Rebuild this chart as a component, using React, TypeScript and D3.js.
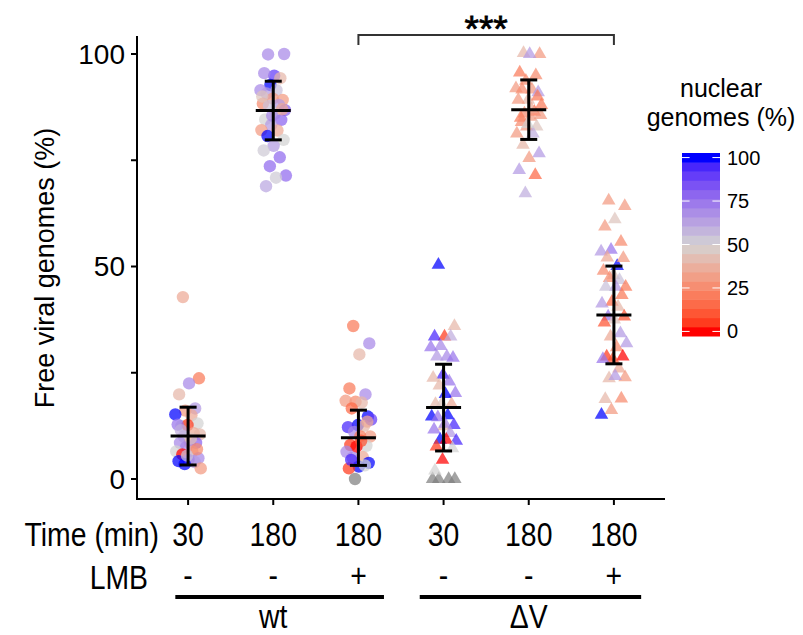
import * as d3 from "d3"

// free viral genomes (%) and nuclear genomes (%) per cell, null = no nuclear value
const wt30: [number, number | null][] = [
  [42.8, 35], [23.7, 20], [22.5, 70], [19.9, 40], [16.6, 65], [16.1, 30], [15.2, 100], [15, 35],
  [12.5, 50], [13.1, 50], [12.7, 5], [12.8, 75], [10.8, 35], [10, 55], [10.5, 40], [8.5, 30],
  [8.5, 70], [8.5, 80], [7.5, 70], [6.5, 50], [6.5, 35], [5.8, 0], [4.9, 70], [4.5, 85],
  [4.2, 100], [4, 65], [3.5, 100], [2.5, 30], [9.5, 45], [11.5, 60], [7, 25], [5.5, 55],
]
const wt180: [number, number | null][] = [
  [99.9, 70], [100, 70], [94.9, 90], [95.5, 70], [94.3, 40], [92.7, 100], [91.5, 70], [91.5, 55],
  [90.7, 65], [89.2, 30], [89.5, 30], [88.3, 25], [88, 65], [87.8, 55], [86.8, 80], [86, 50],
  [84.6, 50], [84.5, 80], [83.3, 65], [82.1, 30], [82, 35], [80.7, 100], [79.8, 50], [78.4, 65],
  [77.3, 52], [75.7, 78], [73.6, 78], [71.4, 78], [70.9, 52], [68.9, 62], [87, 35], [85.5, 70], [90, 45],
]
const wt180lmb: [number, number | null][] = [
  [36, 20], [31.9, 70], [29.3, 40], [21.3, 20], [19.9, 70], [18.2, 25], [18.4, 30], [18, 40],
  [16.6, 15], [14.7, 100], [12.7, 100], [12.2, 95], [12.5, 40], [11.1, 70], [10, 30], [10, 20],
  [8, 5], [7.8, 50], [7.6, 0], [6.4, 70], [5.2, 35], [5, 70], [3.8, 100], [2.9, 100],
  [2.5, 5], [3.2, 50], [0, null], [14, 90], [9, 10], [4.5, 95], [13.5, 35],
]
const dv30: [number, number | null][] = [
  [50.4, 100], [36, 40], [33.5, 5], [33.5, 95], [33.5, 60], [31.3, 70], [31, 75], [28.8, 70],
  [28.8, 65], [28.5, 75], [24.5, 95], [23.8, 40], [22.9, 75], [22, 40], [20.2, 75], [20, 100],
  [17.6, 40], [17.6, 35], [17.6, 45], [14.7, 100], [15, 100], [14.5, 75], [12.7, 95], [12.4, 40],
  [11.6, 75], [10.8, 65], [9.2, 100], [9, 95], [9.2, 0], [7.6, 5], [7.2, 50], [4.5, 0],
  [0, null], [0, null], [0, null], [0, null], [13, 70], [2, 50],
]
const dv180: [number, number | null][] = [
  [100.2, 40], [100, 30], [100, 65], [95.6, 20], [95, 25], [93.7, 25], [91.9, 30], [91.6, 30],
  [91.6, 25], [91, 65], [89.2, 40], [89.2, 30], [86.4, 15], [86, 25], [85.6, 30], [85.2, 30],
  [85, 20], [82.9, 45], [82.9, 30], [81.3, 30], [81.3, 60], [78.6, 40], [76.6, 65], [75.5, 30],
  [72.7, 65], [71.5, 15], [67.2, 60], [88, 20], [87, 35], [84, 25], [90, 20], [83.5, 50],
]
const dv180lmb: [number, number | null][] = [
  [65.5, 30], [64.2, 30], [61.1, 45], [59.4, 30], [55.8, 25], [53.9, 75], [53.5, 65], [50.1, 100],
  [52.1, 35], [52, 30], [48, 45], [49, 25], [46.8, 55], [47.3, 25], [45.2, 20], [45.2, 65],
  [45.2, 55], [43.3, 20], [41.7, 15], [41.3, 65], [40.5, 40], [38.2, 75], [38.2, 10], [37.5, 45],
  [36.8, 10], [34.3, 65], [33.5, 35], [31.9, 65], [31, 25], [28.8, 5], [28.8, 0], [28.2, 10],
  [28.2, 75], [26, 35], [23.7, 40], [23.9, 30], [24.2, 65], [18.8, 40], [18.9, 25], [16.2, 30], [15.1, 100],
]

const groups = [wt30, wt180, wt180lmb, dv30, dv180, dv180lmb]
const strains = ["wt", "ΔV"]
const strainSpan = [[0.85, 3.3], [3.72, 6.32]]
const strainCentre = [2, 5]
const timeLabels = ["30", "180", "180", "30", "180", "180"]
const lmbLabels = ["-", "-", "+", "-", "-", "+"]
const groupMean = [10.1, 86.7, 9.7, 16.8, 86.9, 38.6]
const groupSd = [6.8, 6.9, 6.5, 10.2, 7.0, 11.5]
const yTicks = [0, 25, 50, 75, 100]
const yLabels = [0, 50, 100]
const legendTicks = [0, 25, 50, 75, 100]

const W = 803
const H = 635
const font = "'Liberation Sans', Arial, sans-serif"

// condensed label, like the narrow font of the original
const Narrow = ({ x, y, anchor = "middle", children }: any) => (
  <text
    transform={`translate(${x},${y}) scale(0.86,1)`}
    textAnchor={anchor}
    fontSize={33}
  >
    {children}
  </text>
)

export default function App() {
  const x = d3.scaleLinear().domain([0.4, 6.6]).range([137, 665])
  const y = d3.scaleLinear().domain([0, 100]).range([479, 54])
  const colour = d3
    .scaleLinear<string>()
    .domain([0, 50, 100])
    .range(["#ff0000", "#d3d3d3", "#0000ff"])
    .interpolate(d3.interpolateLab)
  const tri = d3.symbol(d3.symbolTriangle, 80)()

  // legend bar
  const nbin = 20
  const barX = 682
  const barW = 38
  const barTop = 153
  const barBottom = 336
  const binH = (barBottom - barTop) / nbin
  const ly = d3
    .scaleLinear()
    .domain([0, 100])
    .range([barBottom - binH / 2, barTop + binH / 2])
  const bins = d3.range(nbin).map((i) => (i / (nbin - 1)) * 100)

  const axisTop = 36
  const axisBottom = 499

  return (
    <svg
      width={W}
      height={H}
      style={{ position: "absolute", left: 0, top: 0, background: "#fff" }}
      fontFamily={font}
    >
      {/* points */}
      {groups.map((g, gi) => (
        <g key={gi}>
          {g.map(([v, n], i) => {
            const cx = x(gi + 1) + (((i * 0.618034 + 0.3) % 1) - 0.5) * 26
            const cy = y(v)
            const fill = n == null ? "#7f7f7f" : colour(n)
            return gi < 3 ? (
              <circle key={i} cx={cx} cy={cy} r={6.2} fill={fill} fillOpacity={0.72} />
            ) : (
              <path
                key={i}
                d={tri!}
                transform={`translate(${cx},${cy})`}
                fill={fill}
                fillOpacity={0.72}
              />
            )
          })}
        </g>
      ))}

      {/* mean +- sd */}
      {groupMean.map((m, gi) => {
        const cx = x(gi + 1)
        const lo = y(m - groupSd[gi])
        const hi = y(m + groupSd[gi])
        return (
          <g key={gi} stroke="#000" strokeWidth={3}>
            <line x1={cx} x2={cx} y1={lo} y2={hi} />
            <line x1={cx - 8.5} x2={cx + 8.5} y1={lo} y2={lo} />
            <line x1={cx - 8.5} x2={cx + 8.5} y1={hi} y2={hi} />
            <line x1={cx - 17.5} x2={cx + 17.5} y1={y(m)} y2={y(m)} />
          </g>
        )
      })}

      {/* axes */}
      <line x1={137} x2={137} y1={axisTop} y2={axisBottom + 1} stroke="#000" strokeWidth={2} />
      <line x1={136} x2={665} y1={axisBottom} y2={axisBottom} stroke="#000" strokeWidth={2} />
      {yTicks.map((t) => (
        <line key={t} x1={131} x2={137} y1={y(t)} y2={y(t)} stroke="#000" strokeWidth={2} />
      ))}
      {yLabels.map((t) => (
        <text
          key={t}
          x={125}
          y={y(t)}
          textAnchor="end"
          dominantBaseline="central"
          fontSize={28}
        >
          {t}
        </text>
      ))}
      {timeLabels.map((_, gi) => (
        <line
          key={gi}
          x1={x(gi + 1)}
          x2={x(gi + 1)}
          y1={axisBottom}
          y2={axisBottom + 6}
          stroke="#000"
          strokeWidth={2}
        />
      ))}
      <text
        transform="translate(45,268) rotate(-90)"
        textAnchor="middle"
        dominantBaseline="central"
        fontSize={27}
      >
        Free viral genomes (%)
      </text>

      {/* significance bracket */}
      <path
        d={`M${x(3)},45V35H${x(6)}V45`}
        fill="none"
        stroke="#333"
        strokeWidth={2}
      />
      <text
        x={(x(3) + x(6)) / 2}
        y={42}
        textAnchor="middle"
        fontSize={37}
        stroke="#000"
        strokeWidth={0.8}
      >
        ***
      </text>

      {/* bottom annotation */}
      <Narrow x={159} y={546} anchor="end">
        Time (min)
      </Narrow>
      {timeLabels.map((t, gi) => (
        <Narrow key={gi} x={x(gi + 1)} y={546}>
          {t}
        </Narrow>
      ))}
      <Narrow x={148} y={589} anchor="end">
        LMB
      </Narrow>
      {lmbLabels.map((t, gi) => (
        <Narrow key={gi} x={x(gi + 1)} y={587}>
          {t}
        </Narrow>
      ))}
      {strains.map((s, si) => (
        <g key={s}>
          <line
            x1={x(strainSpan[si][0])}
            x2={x(strainSpan[si][1])}
            y1={597}
            y2={597}
            stroke="#000"
            strokeWidth={4}
          />
          <Narrow x={x(strainCentre[si])} y={628}>
            {s}
          </Narrow>
        </g>
      ))}

      {/* colour legend */}
      <text x={721} y={97} textAnchor="middle" fontSize={25}>
        nuclear
      </text>
      <text x={721} y={126} textAnchor="middle" fontSize={25}>
        genomes (%)
      </text>
      {bins.map((b, i) => (
        <rect
          key={i}
          x={barX}
          y={barBottom - (i + 1) * binH}
          width={barW}
          height={binH + 0.5}
          fill={colour(b)}
        />
      ))}
      {legendTicks.map((t) => (
        <g key={t} stroke="#fff" strokeWidth={1}>
          <line x1={barX} x2={barX + 7.6} y1={ly(t)} y2={ly(t)} />
          <line x1={barX + barW - 7.6} x2={barX + barW} y1={ly(t)} y2={ly(t)} />
        </g>
      ))}
      {legendTicks.map((t) => (
        <text
          key={t}
          x={727}
          y={ly(t)}
          dominantBaseline="central"
          fontSize={20}
        >
          {t}
        </text>
      ))}
    </svg>
  )
}
